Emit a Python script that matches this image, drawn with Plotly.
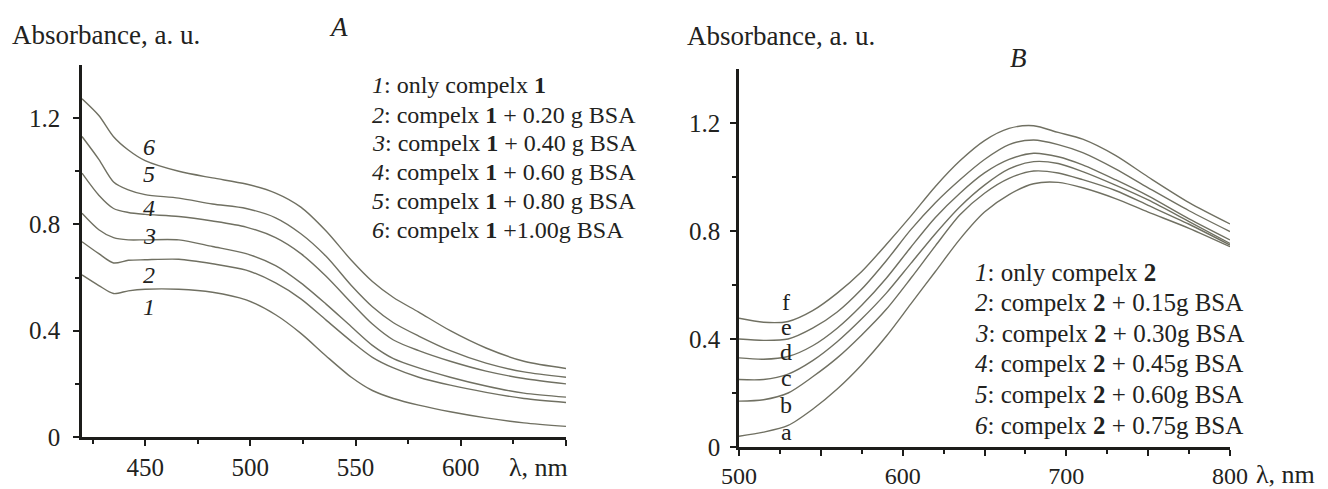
import plotly.graph_objects as go

# ---------------- data ----------------
WL_A = [420, 428, 435, 442, 450, 466, 482, 498, 512, 524, 536, 548, 558, 568, 580, 595, 612, 630, 650]
A1 = [0.61, 0.57, 0.54, 0.55, 0.556, 0.556, 0.545, 0.516, 0.46, 0.39, 0.305, 0.225, 0.175, 0.145, 0.12, 0.095, 0.072, 0.053, 0.04]
A2 = [0.735, 0.69, 0.655, 0.665, 0.667, 0.669, 0.652, 0.628, 0.58, 0.52, 0.44, 0.36, 0.30, 0.26, 0.225, 0.195, 0.168, 0.145, 0.13]
A3 = [0.842, 0.78, 0.75, 0.742, 0.742, 0.742, 0.717, 0.69, 0.645, 0.58, 0.50, 0.415, 0.345, 0.295, 0.26, 0.225, 0.192, 0.165, 0.15]
A4 = [0.993, 0.91, 0.86, 0.845, 0.838, 0.83, 0.813, 0.79, 0.75, 0.69, 0.605, 0.505, 0.425, 0.365, 0.325, 0.285, 0.248, 0.22, 0.20]
A5 = [1.131, 1.045, 0.96, 0.93, 0.912, 0.899, 0.877, 0.86, 0.825, 0.765, 0.68, 0.57, 0.49, 0.43, 0.38, 0.325, 0.278, 0.245, 0.225]
A6 = [1.273, 1.21, 1.13, 1.08, 1.04, 1.0, 0.975, 0.952, 0.918, 0.865, 0.775, 0.665, 0.585, 0.525, 0.47, 0.40, 0.335, 0.285, 0.258]
SERIES_A = [A1, A2, A3, A4, A5, A6]
LABELS_A = ["1", "2", "3", "4", "5", "6"]
LABEL_POS_A = [(452, 0.49), (452, 0.61), (452, 0.757), (452, 0.862), (452, 0.99), (452, 1.092)]
LEGEND_A = [
    "<i>1</i>: only compelx <b>1</b>",
    "<i>2</i>: compelx <b>1</b> + 0.20 g BSA",
    "<i>3</i>: compelx <b>1</b> + 0.40 g BSA",
    "<i>4</i>: compelx <b>1</b> + 0.60 g BSA",
    "<i>5</i>: compelx <b>1</b> + 0.80 g BSA",
    "<i>6</i>: compelx <b>1</b> +1.00g BSA",
]

WL_B = [500, 515, 530, 545, 560, 575, 590, 605, 620, 635, 650, 665, 680, 695, 710, 730, 750, 775, 800]
Ba = [0.04, 0.055, 0.08, 0.14, 0.215, 0.305, 0.41, 0.53, 0.65, 0.77, 0.87, 0.935, 0.975, 0.98, 0.96, 0.92, 0.87, 0.81, 0.742]
Bb = [0.17, 0.175, 0.20, 0.26, 0.33, 0.415, 0.51, 0.625, 0.745, 0.86, 0.94, 0.995, 1.022, 1.015, 0.99, 0.95, 0.895, 0.825, 0.748]
Bc = [0.25, 0.25, 0.27, 0.32, 0.39, 0.475, 0.57, 0.68, 0.79, 0.89, 0.97, 1.03, 1.057, 1.05, 1.02, 0.97, 0.915, 0.835, 0.754]
Bd = [0.33, 0.325, 0.335, 0.375, 0.44, 0.525, 0.625, 0.74, 0.85, 0.94, 1.015, 1.065, 1.088, 1.075, 1.045, 0.99, 0.93, 0.845, 0.767]
Be = [0.40, 0.395, 0.40, 0.44, 0.50, 0.585, 0.69, 0.805, 0.905, 0.99, 1.065, 1.12, 1.137, 1.12, 1.09, 1.03, 0.96, 0.875, 0.798]
Bf = [0.477, 0.462, 0.465, 0.505, 0.57, 0.65, 0.75, 0.855, 0.965, 1.06, 1.135, 1.18, 1.19, 1.165, 1.14, 1.08, 1.0, 0.905, 0.826]
SERIES_B = [Ba, Bb, Bc, Bd, Be, Bf]
LABELS_B = ["a", "b", "c", "d", "e", "f"]
LABEL_POS_B = [(529, 0.057), (529, 0.156), (529, 0.256), (529, 0.353), (529, 0.446), (529, 0.538)]
LEGEND_B = [
    "<i>1</i>: only compelx <b>2</b>",
    "<i>2</i>: compelx <b>2</b> + 0.15g BSA",
    "<i>3</i>: compelx <b>2</b> + 0.30g BSA",
    "<i>4</i>: compelx <b>2</b> + 0.45g BSA",
    "<i>5</i>: compelx <b>2</b> + 0.60g BSA",
    "<i>6</i>: compelx <b>2</b> + 0.75g BSA",
]

# ---------------- styling ----------------
W, H = 1328, 489
FONT = "Times New Roman, Liberation Serif, serif"
LINE = "#707062"
AX = "#1c1c1a"
TXT = "#222220"


def px(x):
    return x / W


def py(y):
    return 1 - y / H


fig = go.Figure()
for vals in SERIES_A:
    fig.add_trace(go.Scatter(x=WL_A, y=vals, mode="lines", xaxis="x", yaxis="y",
                             line=dict(color=LINE, width=1.4, shape="spline", smoothing=0.8),
                             showlegend=False, hoverinfo="skip"))
for vals in SERIES_B:
    fig.add_trace(go.Scatter(x=WL_B, y=vals, mode="lines", xaxis="x2", yaxis="y2",
                             line=dict(color=LINE, width=1.4, shape="spline", smoothing=0.8),
                             showlegend=False, hoverinfo="skip"))


def axis_common(size=25):
    return dict(showline=True, linewidth=2.5, linecolor=AX, ticks="outside", ticklen=6,
                tickwidth=2, tickcolor=AX, showgrid=False, zeroline=False, automargin=False,
                tickfont=dict(family=FONT, size=size, color=TXT))


ann = []
# Panel A
ann.append(dict(text="Absorbance, a. u.", x=px(10), y=py(35), xref="paper", yref="paper",
                xanchor="left", yanchor="middle", showarrow=False,
                font=dict(family=FONT, size=27, color=TXT)))
ann.append(dict(text="<i>A</i>", x=px(338), y=py(27), xref="paper", yref="paper",
                xanchor="center", yanchor="middle", showarrow=False,
                font=dict(family=FONT, size=27, color=TXT)))
ann.append(dict(text="λ, nm", x=px(507), y=py(467), xref="paper", yref="paper",
                xanchor="left", yanchor="middle", showarrow=False,
                font=dict(family=FONT, size=26, color=TXT)))
for i, t in enumerate(LEGEND_A):
    yc = [85, 115, 143, 172, 201, 230][i]
    ann.append(dict(text=t, x=px(370), y=py(yc), xref="paper", yref="paper",
                    xanchor="left", yanchor="middle", showarrow=False,
                    font=dict(family=FONT, size=24, color=TXT)))
for lab, (lx, ly) in zip(LABELS_A, LABEL_POS_A):
    ann.append(dict(text="<i>%s</i>" % lab, x=lx, y=ly, xref="x", yref="y",
                    xanchor="center", yanchor="middle", showarrow=False,
                    font=dict(family=FONT, size=24, color=TXT)))

# Panel B
ann.append(dict(text="Absorbance, a. u.", x=px(685), y=py(36), xref="paper", yref="paper",
                xanchor="left", yanchor="middle", showarrow=False,
                font=dict(family=FONT, size=27, color=TXT)))
ann.append(dict(text="<i>B</i>", x=px(1018), y=py(58), xref="paper", yref="paper",
                xanchor="center", yanchor="middle", showarrow=False,
                font=dict(family=FONT, size=27, color=TXT)))
ann.append(dict(text="λ, nm", x=px(1254), y=py(474), xref="paper", yref="paper",
                xanchor="left", yanchor="middle", showarrow=False,
                font=dict(family=FONT, size=26, color=TXT)))
for i, t in enumerate(LEGEND_B):
    yc = [272, 302, 333, 363, 394, 425][i]
    ann.append(dict(text=t, x=px(973), y=py(yc), xref="paper", yref="paper",
                    xanchor="left", yanchor="middle", showarrow=False,
                    font=dict(family=FONT, size=25, color=TXT)))
for lab, (lx, ly) in zip(LABELS_B, LABEL_POS_B):
    ann.append(dict(text=lab, x=lx, y=ly, xref="x2", yref="y2",
                    xanchor="center", yanchor="middle", showarrow=False,
                    font=dict(family=FONT, size=24, color=TXT)))

xa = axis_common()
xa.update(domain=[px(82), px(566)], range=[420, 650], anchor="y",
          tickvals=[450, 500, 550, 600, 650], ticktext=["450", "500", "550", "600", ""],
          minor=dict(tickvals=[425, 475, 525, 575, 625], ticks="outside", ticklen=4,
                     tickwidth=2, tickcolor=AX, showgrid=False))
ya = axis_common()
ya.update(domain=[py(437), py(65)], range=[0, 1.4], anchor="x", ticklabelstandoff=8,
          tickvals=[0, 0.4, 0.8, 1.2], ticktext=["0", "0.4", "0.8", "1.2"],
          minor=dict(tickvals=[0.2, 0.6, 1.0], ticks="outside", ticklen=4,
                     tickwidth=2, tickcolor=AX, showgrid=False))
xb = axis_common(24)
xb.update(domain=[px(739), px(1230)], range=[500, 800], anchor="y2", ticklabelstandoff=-1,
          tickvals=[500, 550, 600, 650, 700, 750, 800],
          ticktext=["500", "", "600", "", "700", "", "800"],
          minor=dict(tickvals=[525, 575, 625, 675, 725, 775], ticks="outside", ticklen=4,
                     tickwidth=2, tickcolor=AX, showgrid=False))
yb = axis_common()
yb.update(domain=[py(447), py(69)], range=[0, 1.4], anchor="x2", ticklabelstandoff=5,
          tickvals=[0, 0.4, 0.8, 1.2], ticktext=["0", "0.4", "0.8", "1.2"],
          minor=dict(tickvals=[0.2, 0.6, 1.0], ticks="outside", ticklen=4,
                     tickwidth=2, tickcolor=AX, showgrid=False))

fig.update_layout(width=W, height=H, margin=dict(l=0, r=0, t=0, b=0),
                  paper_bgcolor="white", plot_bgcolor="white",
                  xaxis=xa, yaxis=ya, xaxis2=xb, yaxis2=yb,
                  annotations=ann, showlegend=False)

fig.write_html("out.html")
